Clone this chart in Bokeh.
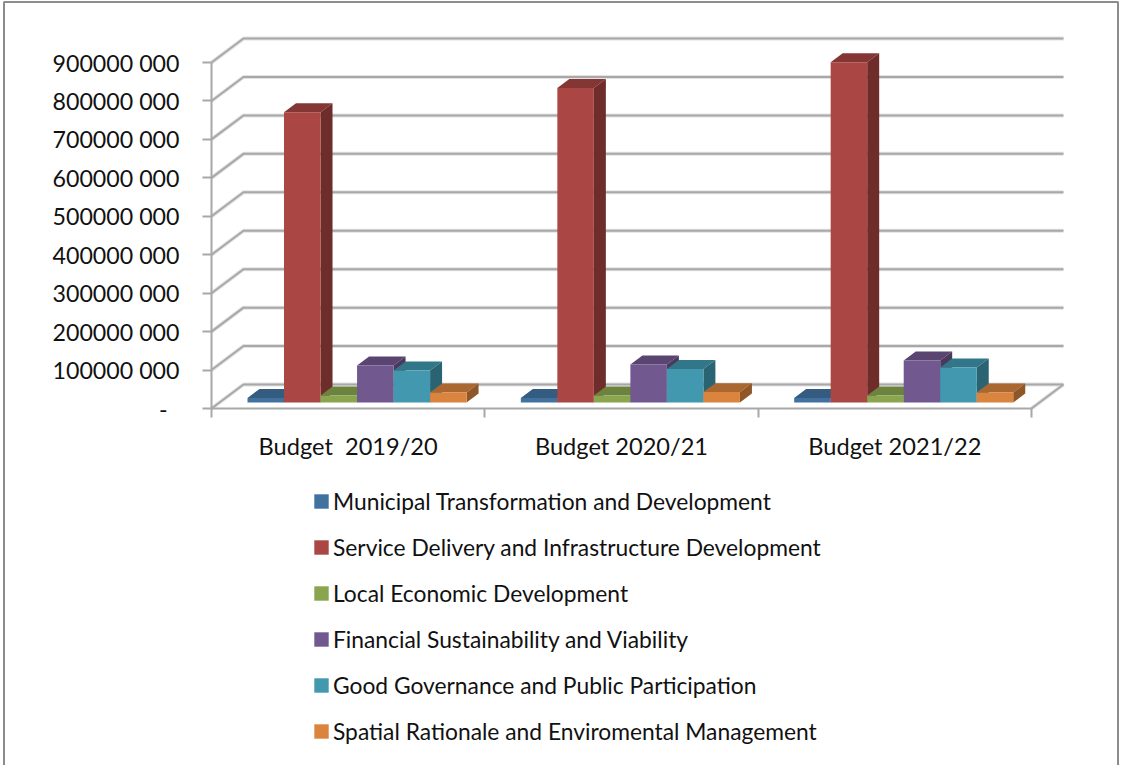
from bokeh.embed import file_html
from bokeh.models import FixedTicker, Legend, LegendItem, LinearAxis, Range1d
from bokeh.plotting import figure
from bokeh.resources import INLINE

years = ["Budget\u00a0 2019/20", "Budget 2020/21", "Budget 2021/22"]
municipal = [12e6, 12e6, 12e6]
service = [755e6, 818e6, 885e6]
local_econ = [18e6, 18e6, 18e6]
financial = [96e6, 99e6, 109e6]
governance = [83e6, 87e6, 91e6]
spatial = [26e6, 27e6, 26e6]
series_names = [
    "Municipal Transformation and Development",
    "Service Delivery and Infrastructure Development",
    "Local Economic Development",
    "Financial Sustainability and Viability",
    "Good Governance and Public Participation",
    "Spatial Rationale and Enviromental Management",
]
series_values = [municipal, service, local_econ, financial, governance, spatial]
front_colors = ["#41719f", "#aa4643", "#89a54e", "#71588f", "#4198af", "#db843d"]
top_colors = ["#345b80", "#843634", "#6c833e", "#5a4572", "#327789", "#ab6730"]
side_colors = ["#2b4b69", "#6e2c2a", "#597032", "#4a395e", "#2a6472", "#8f5628"]
y_ticks = [i * 100_000_000 for i in range(10)]
y_labels = {t: f"{t // 1_000_000}000 000" for t in y_ticks[1:]}
y_labels[0] = "-\u00a0\u00a0"

FONT = "Lato"
WIDTH, HEIGHT = 1121, 765
# The plotting frame fills the page; data origin sits at this pixel.
ORIGIN_X, ORIGIN_Y = 211, 408
PX_PER_CATEGORY = 273.33
PX_PER_VALUE = 38.44 / 100e6
# Oblique projection of the chart box: how far the back wall is shifted from the front plane.
DEPTH_X = 0.117
DEPTH_Y = 62.4e6
BAR_W = 0.1336
BAR_FRONT = 0.25   # depth fraction of a bar's front face
BAR_BACK = 0.625   # depth fraction of a bar's back face


def page_x(px):
    return (px - ORIGIN_X) / PX_PER_CATEGORY


def page_y(px):
    return (ORIGIN_Y - px) / PX_PER_VALUE


p = figure(
    width=WIDTH, height=HEIGHT, output_backend="svg", toolbar_location=None,
    x_range=Range1d(page_x(0), page_x(WIDTH)),
    y_range=Range1d(page_y(HEIGHT), page_y(0)),
    x_axis_type=None, y_axis_type=None,
    min_border=0, background_fill_color="white", border_fill_color="white",
    outline_line_color=None,
)
p.grid.visible = False

# Page frame: left, top and right sides, open at the bottom.
p.line([page_x(3.5), page_x(3.5), page_x(1117.5), page_x(1117.5)],
       [page_y(HEIGHT), page_y(1.5), page_y(1.5), page_y(HEIGHT)],
       line_color="#8c8c8c", line_width=2)

# Back wall gridlines and their left-hand return to the axis.
grid_xs, grid_ys = [], []
for t in y_ticks:
    grid_xs.append([0, DEPTH_X, 3 + DEPTH_X])
    grid_ys.append([t, t + DEPTH_Y, t + DEPTH_Y])
# Floor's right edge.
grid_xs.append([3, 3 + DEPTH_X])
grid_ys.append([0, DEPTH_Y])
p.multi_line(grid_xs, grid_ys, line_color="#e2e2e2", line_width=4)
p.multi_line(grid_xs, grid_ys, line_color="#a8a8a8", line_width=2)

# Bars, drawn left to right so each front face covers its neighbour's side.
legend_items = []
for s, (name, values) in enumerate(zip(series_names, series_values)):
    lefts, rights, tops, bottoms = [], [], [], []
    top_x, top_y, side_x, side_y = [], [], [], []
    fy = BAR_FRONT * DEPTH_Y
    d_x = (BAR_BACK - BAR_FRONT) * DEPTH_X
    d_y = (BAR_BACK - BAR_FRONT) * DEPTH_Y
    for g, v in enumerate(values):
        x0 = g + 0.1317 + s * BAR_W
        x1 = x0 + BAR_W
        lefts.append(x0)
        rights.append(x1)
        bottoms.append(fy)
        tops.append(fy + v)
        top_x.append([x0, x0 + d_x, x1 + d_x, x1])
        top_y.append([fy + v, fy + v + d_y, fy + v + d_y, fy + v])
        side_x.append([x1, x1 + d_x, x1 + d_x, x1])
        side_y.append([fy, fy + d_y, fy + v + d_y, fy + v])
    p.patches(top_x, top_y, fill_color=top_colors[s], line_color=None)
    p.patches(side_x, side_y, fill_color=side_colors[s], line_color=None)
    front = p.quad(left=lefts, right=rights, top=tops, bottom=bottoms,
                   fill_color=front_colors[s], line_color=None)
    legend_items.append(LegendItem(label=name, renderers=[front]))

# Value axis, pinned to the left edge of the chart box.
yaxis = LinearAxis(
    fixed_location=0, bounds=(0, 900e6), ticker=FixedTicker(ticks=y_ticks),
    major_label_overrides=y_labels,
    major_tick_in=0, major_tick_out=9, minor_tick_line_color=None,
    major_label_standoff=23, major_label_text_font=FONT,
    major_label_text_font_size="23.2px", major_label_text_color="#111111",
    axis_line_color="#a8a8a8", axis_line_width=2,
    major_tick_line_color="#a8a8a8", major_tick_line_width=2,
)
p.add_layout(yaxis, "left")

# Category axis: labels mid-category, tick marks on the category boundaries.
xaxis = LinearAxis(
    fixed_location=0, bounds=(0, 3),
    ticker=FixedTicker(ticks=[0.5, 1.5, 2.5], minor_ticks=[0, 1, 2, 3]),
    major_label_overrides={0.5: years[0], 1.5: years[1], 2.5: years[2]},
    major_tick_line_color=None, major_tick_in=0, major_tick_out=0,
    minor_tick_in=0, minor_tick_out=9,
    minor_tick_line_color="#a8a8a8", minor_tick_line_width=2,
    major_label_standoff=14, major_label_text_font=FONT,
    major_label_text_font_size="23.6px", major_label_text_color="#111111",
    axis_line_color="#a8a8a8", axis_line_width=2,
)
p.add_layout(xaxis, "below")

legend = Legend(
    items=legend_items, location=(312, 20), orientation="vertical",
    background_fill_alpha=0, border_line_color=None, padding=0, margin=0,
    glyph_width=18, glyph_height=18, label_standoff=3, label_height=20, spacing=18,
    label_text_font=FONT, label_text_font_size="22.8px", label_text_color="#111111",
)
p.add_layout(legend, "center")

open("out.html", "w").write(file_html(p, INLINE))
